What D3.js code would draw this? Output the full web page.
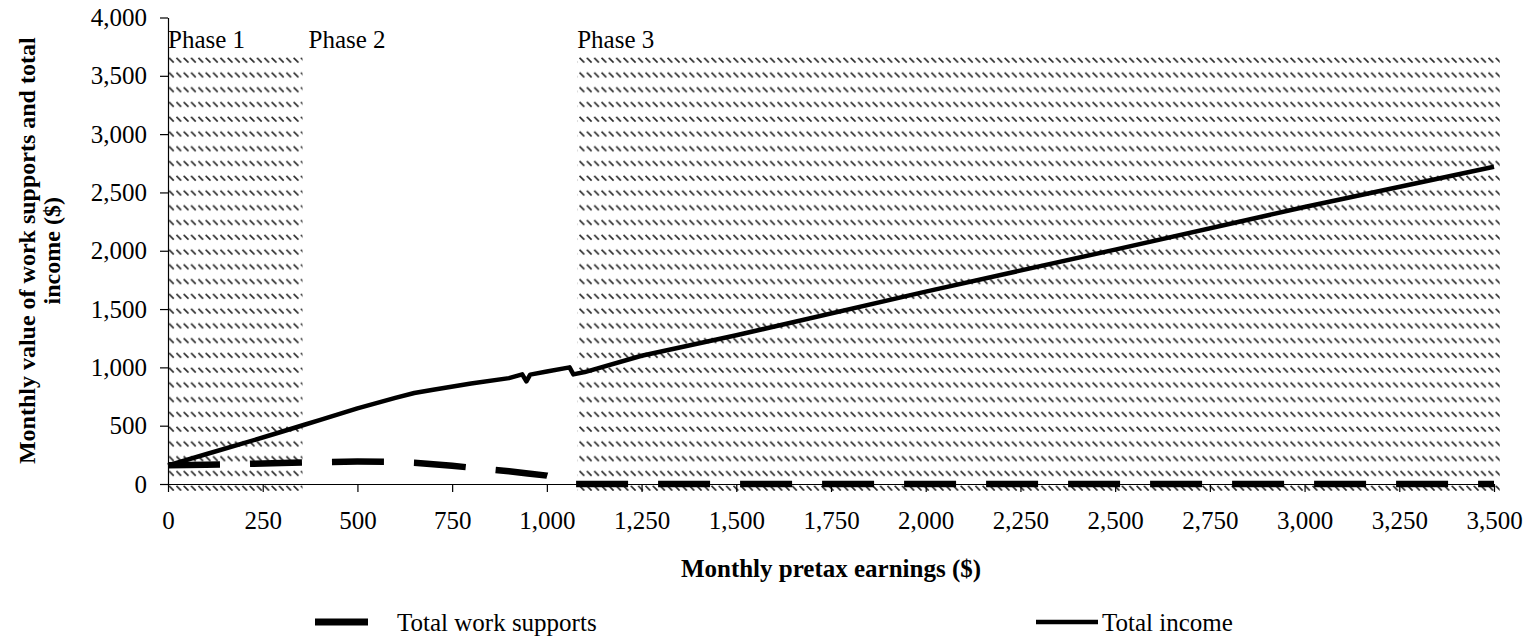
<!DOCTYPE html>
<html>
<head>
<meta charset="utf-8">
<script src="https://cdn.jsdelivr.net/npm/d3@7"></script>
<style>
  html, body { margin: 0; padding: 0; background: #fff; }
  svg { display: block; }
  text { font-family: "Liberation Serif", "Times New Roman", serif; fill: #000; }
</style>
</head>
<body>
<svg id="chart" width="1533" height="641"></svg>
<script>
// ---- data ----
const xTicks = [0, 250, 500, 750, 1000, 1250, 1500, 1750, 2000, 2250, 2500, 2750, 3000, 3250, 3500];
const yTicks = [0, 500, 1000, 1500, 2000, 2500, 3000, 3500, 4000];

const phaseLabels = ["Phase 1", "Phase 2", "Phase 3"];
const phaseStart = [0, 355, 1080];
const phaseEnd = [355, 1080, 3515];
const phaseHatched = [true, false, true];
const hatchTop = 3670;

const incomeX = [0, 100, 200, 300, 360, 400, 500, 600, 650, 700, 800, 900, 935, 946, 956, 1000, 1060, 1070, 1100, 1250, 1500, 2000, 2500, 3000, 3500];
const incomeY = [160, 255, 350, 448, 508, 548, 648, 738, 780, 808, 862, 908, 940, 880, 938, 965, 1000, 940, 960, 1100, 1275, 1650, 2010, 2375, 2720];

const supportsX = [0, 100, 200, 300, 400, 500, 600, 650, 700, 750, 800, 850, 900, 950, 1000, 1075, 3500];
const supportsY = [160, 165, 172, 180, 188, 192, 190, 183, 170, 157, 140, 125, 110, 90, 72, 0, 0];

const seriesNames = ["Total work supports", "Total income"];

// ---- layout ----
const svg = d3.select("#chart");
const x = d3.scaleLinear().domain([0, 3500]).range([168, 1494]);
const y = d3.scaleLinear().domain([0, 4000]).range([484, 17.5]);
const FONT = 25;

// hatch pattern
const defs = svg.append("defs");
const pat = defs.append("pattern")
  .attr("id", "hatch")
  .attr("patternUnits", "userSpaceOnUse")
  .attr("x", 0).attr("y", 57)
  .attr("width", 7.33).attr("height", 14.76);
pat.append("line")
  .attr("x1", 0.5).attr("y1", 0.8).attr("x2", 5.2).attr("y2", 5.5)
  .attr("stroke", "#2a2a2a").attr("stroke-width", 1.6);

const phases = phaseLabels.map((l, i) => ({label: l, start: phaseStart[i], end: phaseEnd[i], hatched: phaseHatched[i]}));

svg.append("g").selectAll("rect")
  .data(phases.filter(d => d.hatched))
  .join("rect")
  .attr("x", d => x(d.start))
  .attr("y", y(hatchTop))
  .attr("width", d => x(d.end) - x(d.start))
  .attr("height", 491 - y(hatchTop))
  .attr("fill", "url(#hatch)");

svg.append("g").selectAll("text")
  .data(phases)
  .join("text")
  .attr("x", (d, i) => x(d.start) + (i === 1 ? 6 : 0))
  .attr("y", 48)
  .attr("font-size", FONT)
  .text(d => d.label);

// axes
const yAxis = svg.append("g")
  .attr("transform", `translate(${x(0)},0)`)
  .call(d3.axisLeft(y).tickValues(yTicks).tickFormat(d3.format(",")).tickSize(8).tickSizeOuter(0).tickPadding(13));
const xAxis = svg.append("g")
  .attr("transform", `translate(0,${y(0)})`)
  .call(d3.axisBottom(x).tickValues(xTicks).tickFormat(d3.format(",")).tickSize(8).tickSizeOuter(0).tickPadding(19));
[yAxis, xAxis].forEach(g => {
  g.selectAll("text").attr("font-size", FONT).attr("font-family", "Liberation Serif").attr("fill", "#000");
  g.selectAll("line").attr("stroke", "#000").attr("stroke-width", 1.2);
  g.select(".domain").attr("stroke", "#000").attr("stroke-width", 1.2);
});

// lines
const lineGen = d3.line().x(d => x(d[0])).y(d => y(d[1]));
const supports = supportsX.map((v, i) => [v, supportsY[i]]);
const income = incomeX.map((v, i) => [v, incomeY[i]]);

svg.append("path")
  .datum(supports)
  .attr("d", lineGen)
  .attr("fill", "none")
  .attr("stroke", "#000")
  .attr("stroke-width", 6.5)
  .attr("stroke-dasharray", "52,30");

svg.append("path")
  .datum(income)
  .attr("d", lineGen)
  .attr("fill", "none")
  .attr("stroke", "#000")
  .attr("stroke-width", 4.5)
  .attr("stroke-linejoin", "round");

// axis titles
svg.append("text")
  .attr("x", (x(0) + x(3500)) / 2)
  .attr("y", 577)
  .attr("text-anchor", "middle")
  .attr("font-size", FONT)
  .attr("font-weight", "bold")
  .text("Monthly pretax earnings ($)");

const yt = svg.append("text")
  .attr("transform", `translate(35,${(y(0) + y(4000)) / 2}) rotate(-90)`)
  .attr("text-anchor", "middle")
  .attr("font-size", FONT - 1)
  .attr("font-weight", "bold");
yt.append("tspan").attr("x", 0).attr("dy", 0).text("Monthly value of work supports and total");
yt.append("tspan").attr("x", 0).attr("dy", 25).text("income ($)");

// legend
const leg = svg.append("g");
leg.append("line")
  .attr("x1", 315).attr("x2", 368).attr("y1", 622).attr("y2", 622)
  .attr("stroke", "#000").attr("stroke-width", 7);
leg.append("text").attr("x", 397).attr("y", 631).attr("font-size", FONT).text(seriesNames[0]);
leg.append("line")
  .attr("x1", 1036).attr("x2", 1098).attr("y1", 622).attr("y2", 622)
  .attr("stroke", "#000").attr("stroke-width", 4.5);
leg.append("text").attr("x", 1102).attr("y", 631).attr("font-size", FONT).text(seriesNames[1]);
</script>
</body>
</html>
